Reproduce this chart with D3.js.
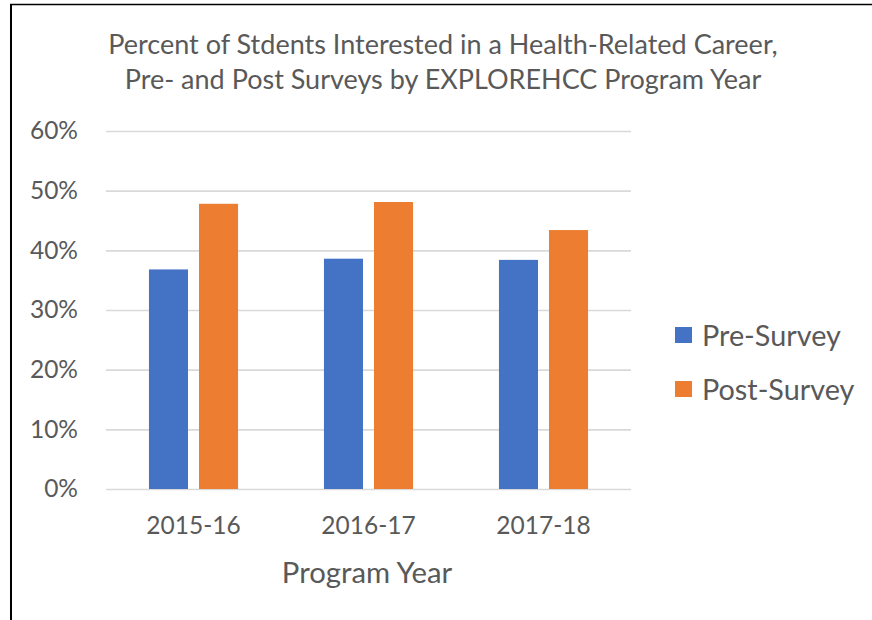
<!DOCTYPE html>
<html>
<head>
<meta charset="utf-8">
<script src="https://cdn.jsdelivr.net/npm/d3@7"></script>
<style>
  html, body { margin: 0; padding: 0; background: #fff; }
  svg { display: block; font-family: Lato, "Open Sans", sans-serif; }
</style>
</head>
<body>
<svg id="chart" width="872" height="620"></svg>
<script>
// Program years and survey results (share of students interested, %)
const years = ["2015-16", "2016-17", "2017-18"];
const seriesNames = ["Pre-Survey", "Post-Survey"];
const preSurvey = [36.8, 38.6, 38.4];
const postSurvey = [47.8, 48.1, 43.4];
const yTicks = [0, 10, 20, 30, 40, 50, 60];
const titleLines = [
  "Percent of Stdents Interested in a Health-Related Career,",
  "Pre- and Post Surveys by EXPLOREHCC Program Year"
];
const xAxisTitle = "Program Year";

const colors = { "Pre-Survey": "#4472C4", "Post-Survey": "#ED7D31" };
const textColor = "#595959";
const gridColor = "#D9D9D9";

const rows = years.map((y, i) => ({
  year: y,
  values: [
    { name: seriesNames[0], value: preSurvey[i] },
    { name: seriesNames[1], value: postSurvey[i] }
  ]
}));

const svg = d3.select("#chart");

// Frame edges
svg.append("line").attr("x1", 11).attr("x2", 11).attr("y1", 4.5).attr("y2", 620)
  .attr("stroke", "#000").attr("stroke-width", 2);
svg.append("line").attr("x1", 10).attr("x2", 872).attr("y1", 4.5).attr("y2", 4.5)
  .attr("stroke", "#000").attr("stroke-width", 1.6);

const plot = { left: 106, right: 631, top: 131, bottom: 489 };

const x0 = d3.scaleBand().domain(years)
  .range([plot.left, plot.right]).paddingInner(0.491).paddingOuter(0.2455);
const x1 = d3.scaleBand().domain(seriesNames)
  .range([0, x0.bandwidth()]).paddingInner(0.22);
const y = d3.scaleLinear().domain([0, 60]).range([plot.bottom, plot.top]);

// Title
const title = svg.append("text")
  .attr("text-anchor", "middle")
  .attr("fill", textColor)
  .attr("font-size", 27);
title.selectAll("tspan").data(titleLines).join("tspan")
  .attr("x", 443)
  .attr("y", (d, i) => 54 + i * 35)
  .text(d => d);

// Gridlines and y tick labels
const yAxis = d3.axisLeft(y).tickValues(yTicks)
  .tickSize(-(plot.right - plot.left))
  .tickPadding(28)
  .tickFormat(d => d + "%");
const gy = svg.append("g").attr("transform", `translate(${plot.left},0)`).call(yAxis);
gy.select(".domain").remove();
gy.selectAll(".tick line").attr("stroke", gridColor).attr("stroke-width", 1.6);
gy.selectAll(".tick text").attr("fill", textColor).attr("font-size", 24.5)
  .attr("font-family", "Lato, 'Open Sans', sans-serif");

// Bars
const groups = svg.append("g").selectAll("g").data(rows).join("g")
  .attr("transform", d => `translate(${x0(d.year)},0)`);
groups.selectAll("rect").data(d => d.values).join("rect")
  .attr("x", d => x1(d.name))
  .attr("width", x1.bandwidth())
  .attr("y", d => y(d.value))
  .attr("height", d => y(0) - y(d.value))
  .attr("fill", d => colors[d.name]);

// X axis labels
const xAxis = d3.axisBottom(x0).tickSize(0).tickPadding(28);
const gx = svg.append("g").attr("transform", `translate(0,${plot.bottom})`).call(xAxis);
gx.select(".domain").remove();
gx.selectAll(".tick text").attr("fill", textColor).attr("font-size", 24.5)
  .attr("font-family", "Lato, 'Open Sans', sans-serif");

// X axis title
svg.append("text")
  .attr("x", 367)
  .attr("y", 583)
  .attr("text-anchor", "middle")
  .attr("fill", textColor)
  .attr("font-size", 29.3)
  .text(xAxisTitle);

// Legend
const legend = svg.append("g").selectAll("g").data(seriesNames).join("g")
  .attr("transform", (d, i) => `translate(675,${327 + i * 54})`);
legend.append("rect").attr("width", 17).attr("height", 16)
  .attr("fill", d => colors[d]);
legend.append("text").attr("x", 27).attr("y", 18.5)
  .attr("fill", textColor).attr("font-size", 28.8)
  .text(d => d);
</script>
</body>
</html>
